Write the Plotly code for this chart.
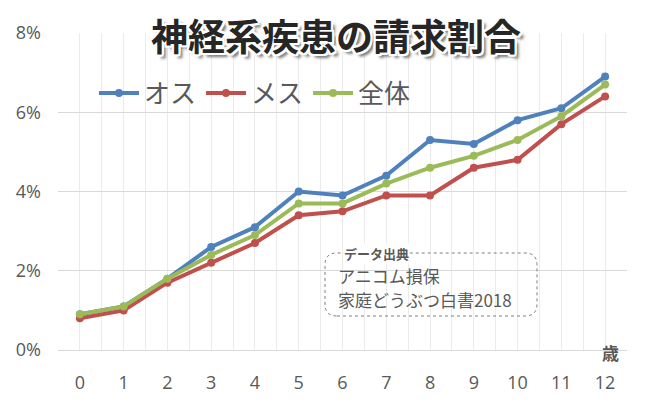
import plotly.graph_objects as go

ages = [0, 1, 2, 3, 4, 5, 6, 7, 8, 9, 10, 11, 12]
male = [0.009, 0.011, 0.018, 0.026, 0.031, 0.040, 0.039, 0.044, 0.053, 0.052, 0.058, 0.061, 0.069]
female = [0.008, 0.010, 0.017, 0.022, 0.027, 0.034, 0.035, 0.039, 0.039, 0.046, 0.048, 0.057, 0.064]
overall = [0.009, 0.011, 0.018, 0.024, 0.029, 0.037, 0.037, 0.042, 0.046, 0.049, 0.053, 0.059, 0.067]
series_names = ["オス", "メス", "全体"]
colors = ["#4F81BD", "#C0504D", "#9BBB59"]

W, H = 650, 414
L, R, T, B = 58, 23, 33, 64
pw, ph = W - L - R, H - T - B

def px(x):
    return (x - L) / pw

def py(y):
    return (H - B - y) / ph

fig = go.Figure()
for name, vals, c in zip(series_names, [male, female, overall], colors):
    fig.add_trace(go.Scatter(x=ages, y=vals, name=name, mode="lines+markers",
                             line=dict(color=c, width=4),
                             marker=dict(color=c, size=8)))

gray = "#595959"
jp = "Noto Sans CJK JP"

# rounded dotted box
x0, x1, y0, y1 = px(325), px(537), py(316), py(253)
rx, ry = 12 / pw, 12 / ph
path = (f"M {x0+rx},{y0} L {x1-rx},{y0} Q {x1},{y0} {x1},{y0+ry} "
        f"L {x1},{y1-ry} Q {x1},{y1} {x1-rx},{y1} "
        f"L {x0+rx},{y1} Q {x0},{y1} {x0},{y1-ry} "
        f"L {x0},{y0+ry} Q {x0},{y0} {x0+rx},{y0} Z")
fig.add_shape(type="path", path=path, xref="paper", yref="paper",
              line=dict(color="#7F7F7F", width=1, dash="dot"), fillcolor="rgba(255,255,255,0)")

fig.add_annotation(text="<b>データ出典</b>", xref="paper", yref="paper", x=px(343), y=py(253),
                   xanchor="left", yanchor="middle", showarrow=False, bgcolor="white",
                   font=dict(family=jp, size=13, color=gray), borderpad=0)
fig.add_annotation(text="アニコム損保", xref="paper", yref="paper", x=px(336), y=py(275),
                   xanchor="left", yanchor="middle", showarrow=False,
                   font=dict(family=jp, size=17, color=gray))
fig.add_annotation(text="家庭どうぶつ白書2018", xref="paper", yref="paper", x=px(336), y=py(299),
                   xanchor="left", yanchor="middle", showarrow=False,
                   font=dict(family=jp, size=17, color=gray))
fig.add_annotation(text="<b>歳</b>", xref="paper", yref="paper", x=px(610), y=py(352),
                   xanchor="center", yanchor="middle", showarrow=False,
                   font=dict(family=jp, size=17, color=gray))

shadow = ("-2px -2px 0 #fff, 2px -2px 0 #fff, -2px 2px 0 #fff, 2px 2px 0 #fff, "
          "0 -2px 0 #fff, 0 2px 0 #fff, -2px 0 0 #fff, 2px 0 0 #fff, 4px 4px 3px #777")

fig.update_layout(
    width=W, height=H,
    margin=dict(l=L, r=R, t=T, b=B, autoexpand=False),
    plot_bgcolor="white", paper_bgcolor="white",
    title=dict(text="<b>神経系疾患の請求割合</b>", xref="container", yref="container",
               x=336 / W, y=1 - 38 / H, xanchor="center", yanchor="middle",
               font=dict(family=jp, size=37, weight=900, color="#262626", shadow=shadow)),
    legend=dict(orientation="h", x=px(94), y=py(93), xanchor="left", yanchor="middle",
                font=dict(family=jp, size=26, color=gray), bgcolor="rgba(0,0,0,0)",
                itemwidth=40, tracegroupgap=0),
    xaxis=dict(range=[-0.5, 12.5], tickmode="array", tickvals=ages,
               ticktext=[str(a) for a in ages], showgrid=True, gridcolor="#EBEBEB",
               gridwidth=1, zeroline=False, showline=True, linecolor="#D9D9D9",
               ticks="", ticklabelstandoff=16, automargin=False,
               tickfont=dict(family="Open Sans", size=18, color=gray),
               minor=dict(tickmode="linear", tick0=-0.5, dtick=1, showgrid=True,
                          gridcolor="#EBEBEB", gridwidth=1)),
    yaxis=dict(range=[0, 0.08], dtick=0.02, tickformat=".0%", showgrid=True,
               gridcolor="#D9D9D9", gridwidth=1, zeroline=False, showline=False,
               ticks="", ticklabelstandoff=16, automargin=False,
               tickfont=dict(family="Open Sans", size=18, color=gray)),
)

fig.write_html("out.html", config={"displayModeBar": False},
               post_script="document.body.style.margin='0';")
